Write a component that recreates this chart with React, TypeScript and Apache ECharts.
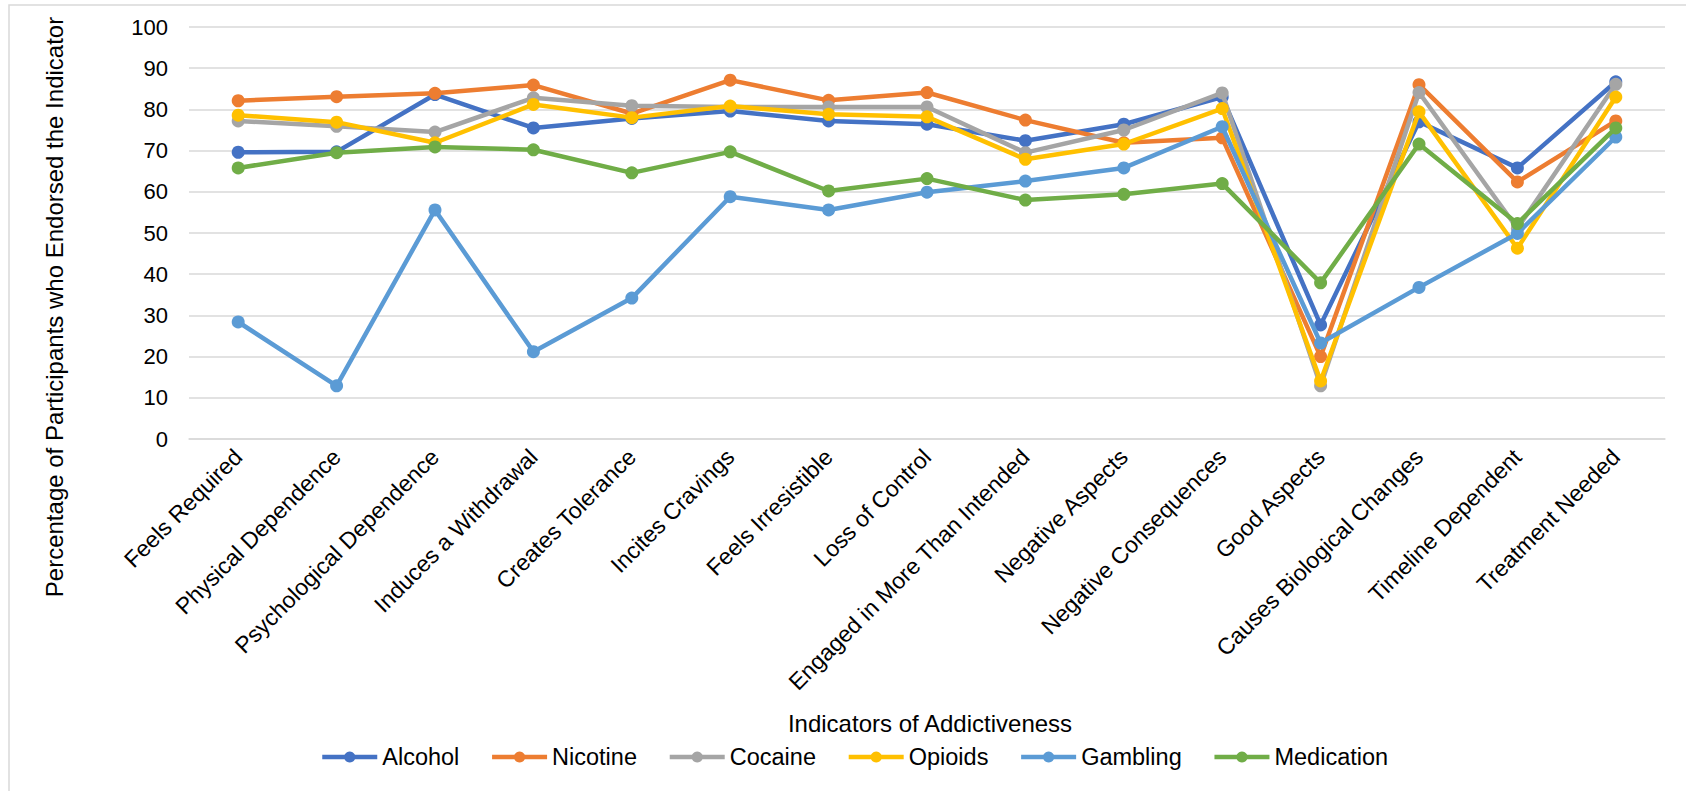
import React, { useEffect, useRef } from "react";
import * as echarts from "echarts";

const categories = [
  "Feels Required",
  "Physical Dependence",
  "Psychological Dependence",
  "Induces a Withdrawal",
  "Creates Tolerance",
  "Incites Cravings",
  "Feels Irresistible",
  "Loss of Control",
  "Engaged in More Than Intended",
  "Negative Aspects",
  "Negative Consequences",
  "Good Aspects",
  "Causes Biological Changes",
  "Timeline Dependent",
  "Treatment Needed",
];

const alcohol = [69.6, 69.7, 83.6, 75.5, 77.8, 79.6, 77.2, 76.4, 72.4, 76.4, 83.0, 27.7, 77.0, 65.8, 86.7];
const nicotine = [82.1, 83.1, 83.9, 85.9, 79.0, 87.1, 82.2, 84.1, 77.4, 71.9, 73.1, 20.0, 86.0, 62.4, 77.2];
const cocaine = [77.2, 75.9, 74.5, 82.8, 80.9, 80.6, 80.6, 80.6, 69.5, 75.0, 84.0, 12.9, 84.1, 51.1, 86.1];
const opioids = [78.6, 76.9, 71.9, 81.2, 78.0, 80.8, 78.8, 78.2, 67.9, 71.6, 80.2, 14.1, 79.4, 46.3, 83.0];
const gambling = [28.4, 12.9, 55.6, 21.2, 34.2, 58.8, 55.6, 59.9, 62.6, 65.8, 75.8, 23.3, 36.8, 49.9, 73.3];
const medication = [65.8, 69.5, 70.9, 70.2, 64.6, 69.7, 60.2, 63.2, 58.0, 59.4, 62.0, 37.9, 71.6, 52.3, 75.5];

const seriesNames = ["Alcohol", "Nicotine", "Cocaine", "Opioids", "Gambling", "Medication"];
const seriesColors = ["#4472C4", "#ED7D31", "#A5A5A5", "#FFC000", "#5B9BD5", "#70AD47"];
const seriesData = [alcohol, nicotine, cocaine, opioids, gambling, medication];

const yAxisTitle = "Percentage of Participants who Endorsed the Indicator";
const xAxisTitle = "Indicators of Addictiveness";

export default function App() {
  const ref = useRef<HTMLDivElement>(null);

  useEffect(() => {
    const chart = echarts.init(ref.current!, null, { renderer: "svg" });
    const font = '"Liberation Sans", Arial, sans-serif';

    chart.setOption({
      animation: false,
      backgroundColor: "#ffffff",
      textStyle: { fontFamily: font },
      grid: { left: 189, right: 21, top: 27, bottom: 352, containLabel: false },
      xAxis: {
        type: "category",
        data: categories,
        boundaryGap: true,
        axisLine: { show: true, lineStyle: { color: "#D9D9D9", width: 1.5 } },
        axisTick: { show: false },
        axisLabel: {
          rotate: 45,
          interval: 0,
          fontSize: 23,
          color: "#000000",
          margin: 14,
          fontFamily: font,
        },
      },
      yAxis: {
        type: "value",
        min: 0,
        max: 100,
        interval: 10,
        axisLine: { show: false },
        axisTick: { show: false },
        axisLabel: { fontSize: 22, color: "#000000", margin: 21, fontFamily: font },
        splitLine: { show: true, lineStyle: { color: "#D9D9D9", width: 1.5 } },
      },
      legend: {
        data: seriesNames,
        left: 315,
        top: 740,
        itemWidth: 55,
        itemHeight: 14,
        itemGap: 30.5,
        lineStyle: { width: 4.5 },
        textStyle: { fontSize: 23.5, color: "#000000", fontFamily: font },
      },
      graphic: [
        {
          type: "rect",
          shape: { x: 9, y: 5, width: 1700, height: 800 },
          style: { fill: "none", stroke: "#D9D9D9", lineWidth: 1.5 },
          silent: true,
        },
        {
          type: "text",
          x: 930,
          y: 723,
          style: {
            text: xAxisTitle,
            fontSize: 24,
            fill: "#000000",
            align: "center",
            verticalAlign: "middle",
            fontFamily: font,
          },
        },
        {
          type: "text",
          x: 54,
          y: 307,
          rotation: Math.PI / 2,
          style: {
            text: yAxisTitle,
            fontSize: 24,
            fill: "#000000",
            align: "center",
            verticalAlign: "middle",
            fontFamily: font,
          },
        },
      ],
      series: seriesNames.map((name, i) => ({
        name,
        type: "line",
        data: seriesData[i],
        symbol: "circle",
        symbolSize: 13,
        color: seriesColors[i],
        lineStyle: { color: seriesColors[i], width: 4.5 },
        itemStyle: { color: seriesColors[i] },
        emphasis: { disabled: true },
        z: 2 + i,
      })),
    });

    return () => {
      chart.dispose();
    };
  }, []);

  return (
    <div
      ref={ref}
      style={{ position: "fixed", left: 0, top: 0, width: 1686, height: 791 }}
    />
  );
}
